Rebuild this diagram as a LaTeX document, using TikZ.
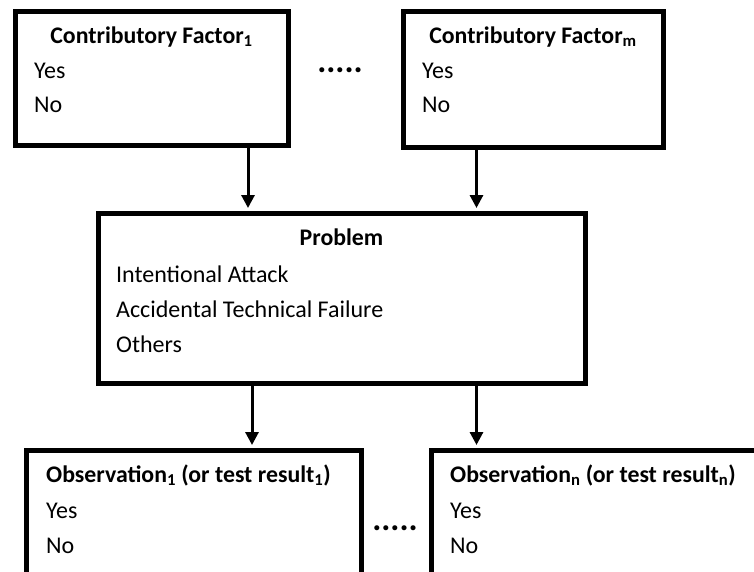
\documentclass[tikz,border=0pt]{standalone}
\usepackage{fontspec}
\setmainfont{Carlito}
\usetikzlibrary{positioning,arrows.meta}

\begin{document}
\begin{tikzpicture}[
	x=1pt, y=-1pt,
	box/.style={draw, line width=5pt, inner sep=0pt, anchor=north west},
	head/.style={font=\fontsize{23.8}{28}\selectfont\bfseries, inner sep=0pt},
	item/.style={font=\fontsize{24}{28}\selectfont, inner sep=0pt, anchor=base west},
	pile/.style={line width=3pt, -{Triangle[width=13pt,length=13pt]}, shorten >=2.5pt},
	more/.style={font=\fontsize{34}{34}\selectfont\bfseries, inner sep=0pt}
	]
	\useasboundingbox (0,0) rectangle (754,571);
	% boxes
	\node[box, minimum width=273pt, minimum height=134pt] (cf1) at (12.5,8.5) {};
	\node[box, minimum width=260pt, minimum height=136pt] (cfm) at (400.5,8.5) {};
	\node[box, minimum width=487pt, minimum height=170pt] (prob) at (95.5,210.5) {};
	\node[box, minimum width=335pt, minimum height=128.5pt] (obs1) at (23.5,447.5) {};
	\node[box, minimum width=341.5pt, minimum height=128.5pt] (obsn) at (428.5,447.5) {};
	% contributory factors
	\node[head, anchor=base] (cf1head) at ([yshift=-34.5pt]cf1.north) {Contributory Factor\textsubscript{1}};
	\node[item] (cf1yes) at ([xshift=21.5pt,yshift=-69.5pt]cf1.north west) {Yes};
	\node[item] (cf1no) at ([yshift=-34pt]cf1yes.base west) {No};
	\node[head, anchor=base] (cfmhead) at ([yshift=-34.5pt]cfm.north) {Contributory Factor\textsubscript{m}};
	\node[item] (cfmyes) at ([xshift=21.5pt,yshift=-69.5pt]cfm.north west) {Yes};
	\node[item] (cfmno) at ([yshift=-34pt]cfmyes.base west) {No};
	\node[more] (cfdots) at (340,70) {.....};
	% problem
	\node[head, anchor=base] (probhead) at ([yshift=-34.5pt]prob.north) {Problem};
	\node[item] (probatt) at ([xshift=20.5pt,yshift=-71.5pt]prob.north west) {Intentional Attack};
	\node[item] (probfail) at ([yshift=-35pt]probatt.base west) {Accidental Technical Failure};
	\node[item] (proboth) at ([yshift=-35pt]probfail.base west) {Others};
	% observations
	\node[head, anchor=base west] (obs1head) at ([xshift=22.5pt,yshift=-34.5pt]obs1.north west) {Observation\textsubscript{1} (or test result\textsubscript{1})};
	\node[item] (obs1yes) at ([yshift=-36pt]obs1head.base west) {Yes};
	\node[item] (obs1no) at ([yshift=-35pt]obs1yes.base west) {No};
	\node[head, anchor=base west] (obsnhead) at ([xshift=21.5pt,yshift=-34.5pt]obsn.north west) {Observation\textsubscript{n} (or test result\textsubscript{n})};
	\node[item] (obsnyes) at ([yshift=-36pt]obsnhead.base west) {Yes};
	\node[item] (obsnno) at ([yshift=-35pt]obsnyes.base west) {No};
	\node[more] (obsdots) at (395,528) {.....};
	% arrows
	\coordinate (a1) at ([xshift=-42.5pt]cf1.south east);
	\coordinate (am) at ([xshift=76pt]cfm.south west);
	\coordinate (b1) at ([xshift=156.5pt]prob.south west);
	\coordinate (bn) at ([xshift=381pt]prob.south west);
	\draw[pile] (a1) -- (a1 |- prob.north);
	\draw[pile] (am) -- (am |- prob.north);
	\draw[pile] (b1) -- (b1 |- obs1.north);
	\draw[pile] (bn) -- (bn |- obsn.north);
\end{tikzpicture}
\end{document}
